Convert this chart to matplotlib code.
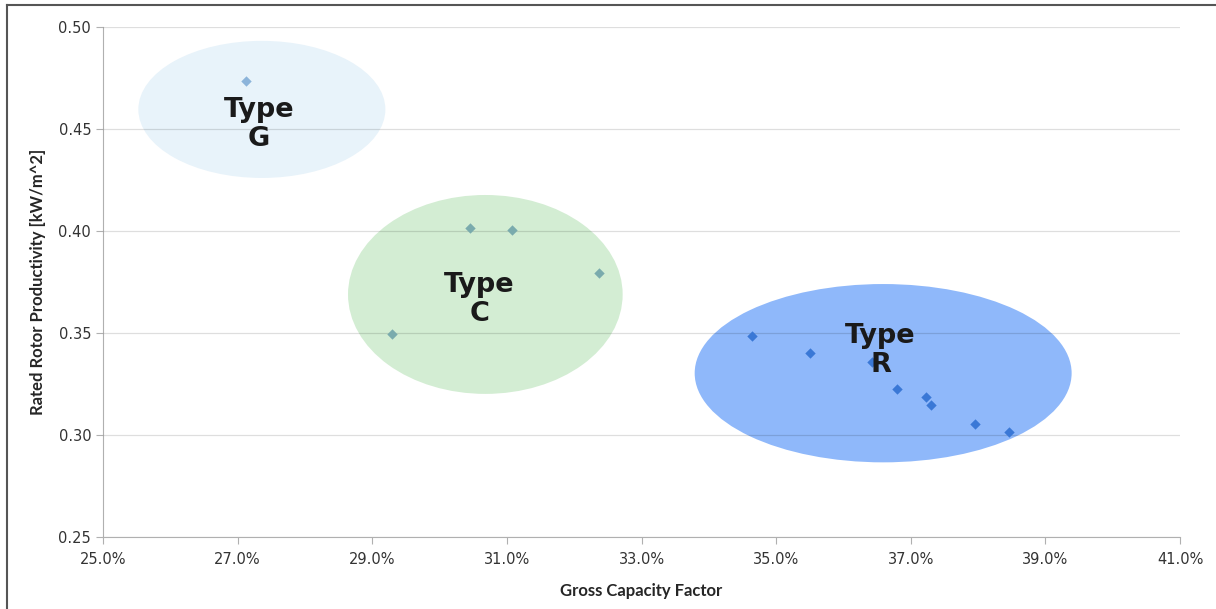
import matplotlib.pyplot as plt
from matplotlib.patches import Ellipse
from matplotlib.lines import Line2D
from matplotlib.ticker import FuncFormatter

# data: gross capacity factor (%) and rated rotor productivity (kW/m^2)
g_cf = [27.12]
g_rp = [0.4735]

c_cf = [29.29, 30.45, 31.08, 32.37]
c_rp = [0.3497, 0.4015, 0.4005, 0.3794]

r_cf = [34.64, 35.50, 36.42, 36.80, 37.22, 37.30, 37.96, 38.46]
r_rp = [0.3485, 0.3400, 0.3356, 0.3225, 0.3188, 0.3147, 0.3052, 0.3016]

# group ellipses: (center x, center y, width, height)
groups = ['Type\nG', 'Type\nC', 'Type\nR']
ell_cx = [27.36, 30.68, 36.59]
ell_cy = [0.4596, 0.3689, 0.3303]
ell_w = [3.67, 4.08, 5.60]
ell_h = [0.0672, 0.0975, 0.0874]
ell_colors = ['#e8f3fa', '#d3edd3', '#8fb8fa']
label_x = [27.32, 30.59, 36.55]
label_y = [0.4520, 0.3662, 0.3412]

fig = plt.figure(figsize=(12.16, 6.09), dpi=100)
ax = fig.add_axes([0.0847, 0.1182, 0.8857, 0.8375])

ax.set_xlim(25, 41)
ax.set_ylim(0.25, 0.50)
ax.set_xticks([25, 27, 29, 31, 33, 35, 37, 39, 41])
ax.set_yticks([0.25, 0.30, 0.35, 0.40, 0.45, 0.50])
ax.xaxis.set_major_formatter(FuncFormatter(lambda v, p: f"{v:.1f}%"))
ax.yaxis.set_major_formatter(FuncFormatter(lambda v, p: f"{v:.2f}"))

ax.set_axisbelow(False)
ax.grid(axis='y', color='black', alpha=0.13, linewidth=0.9, zorder=2)
for s in ['top', 'right']:
    ax.spines[s].set_visible(False)
for s in ['left', 'bottom']:
    ax.spines[s].set_color('#b0b0b0')
    ax.spines[s].set_zorder(2)
ax.tick_params(axis='both', colors='#b0b0b0', labelcolor='#333333',
               labelsize=10.5, length=5)
ax.tick_params(axis='x', pad=6)

for cx, cy, w, h, col in zip(ell_cx, ell_cy, ell_w, ell_h, ell_colors):
    ax.add_patch(Ellipse((cx, cy), w, h, facecolor=col, edgecolor='none',
                         zorder=1))

ax.scatter(g_cf, g_rp, marker='D', s=28, color='#8cb4da', zorder=3, linewidths=0)
ax.scatter(c_cf, c_rp, marker='D', s=28, color='#7aabad', zorder=3, linewidths=0)
ax.scatter(r_cf, r_rp, marker='D', s=28, color='#3a78d6', zorder=3, linewidths=0)

for t, x, y in zip(groups, label_x, label_y):
    ax.text(x, y, t, ha='center', va='center', fontsize=19.5, fontweight='bold',
            color='#1a1a1a', linespacing=1.15, zorder=4)

ax.set_xlabel('Gross Capacity Factor', fontsize=12, fontweight='bold',
              family=['Lato', 'DejaVu Sans'], color='#262626', labelpad=11)
ax.set_ylabel('Rated Rotor Productivity [kW/m^2]', fontsize=12,
              family=['Lato', 'DejaVu Sans'], fontweight='bold',
              color='#262626', labelpad=9)

# outer frame (top and left edges)
fig.add_artist(Line2D([7 / 1216, 1.0], [1 - 5 / 609, 1 - 5 / 609],
                      color='#555555', linewidth=1.5, transform=fig.transFigure))
fig.add_artist(Line2D([7 / 1216, 7 / 1216], [0.0, 1 - 5 / 609],
                      color='#555555', linewidth=1.5, transform=fig.transFigure))

fig.savefig('out.png', dpi=100)
